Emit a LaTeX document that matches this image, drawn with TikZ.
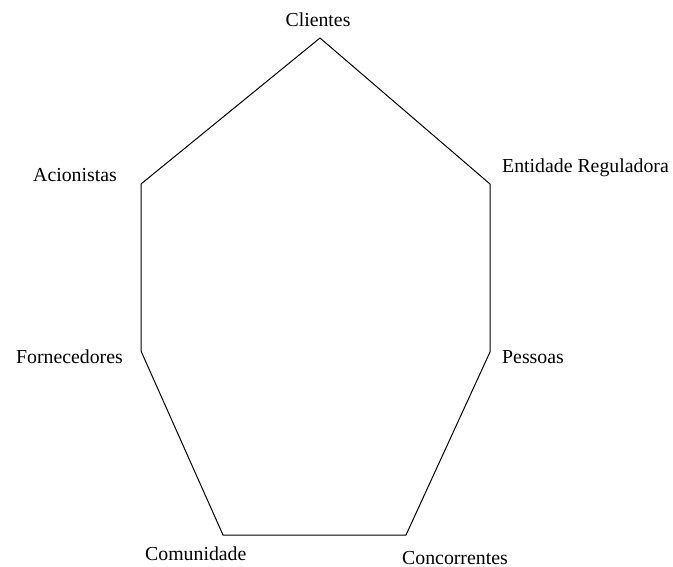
\documentclass[tikz,border=0pt]{standalone}
\usepackage{fontspec}
\setmainfont{Liberation Serif}
\begin{document}
\begin{tikzpicture}[x=1pt,y=-1pt,
  lbl/.style={inner sep=0pt, font=\fontsize{19.8}{23}\selectfont},
  edge/.style={line width=1pt, black, line join=miter}]
\useasboundingbox (0,0) rectangle (673,567);
% vertices of the stakeholder heptagon
\coordinate (vC) at (320,38);
\coordinate (vE) at (490,184);
\coordinate (vP) at (490,352);
\coordinate (vK) at (406,535);
\coordinate (vM) at (223,535);
\coordinate (vF) at (141,351);
\coordinate (vA) at (141,184);
\draw[edge] (vC) -- (vE) -- (vP) -- (vK) -- (vM) -- (vF) -- (vA) -- cycle;
% labels
\node[lbl, anchor=base] (tC) at (318,27) {Clientes};
\node[lbl, anchor=base west] (tE) at (502,173) {Entidade Reguladora};
\node[lbl, anchor=base west] (tP) at (502,363) {Pessoas};
\node[lbl, anchor=base west] (tK) at (402,564) {Concorrentes};
\node[lbl, anchor=base west] (tM) at (145,560) {Comunidade};
\node[lbl, anchor=base east] (tF) at (123,363) {Fornecedores};
\node[lbl, anchor=base east] (tA) at (117,182) {Acionistas};
\end{tikzpicture}
\end{document}
